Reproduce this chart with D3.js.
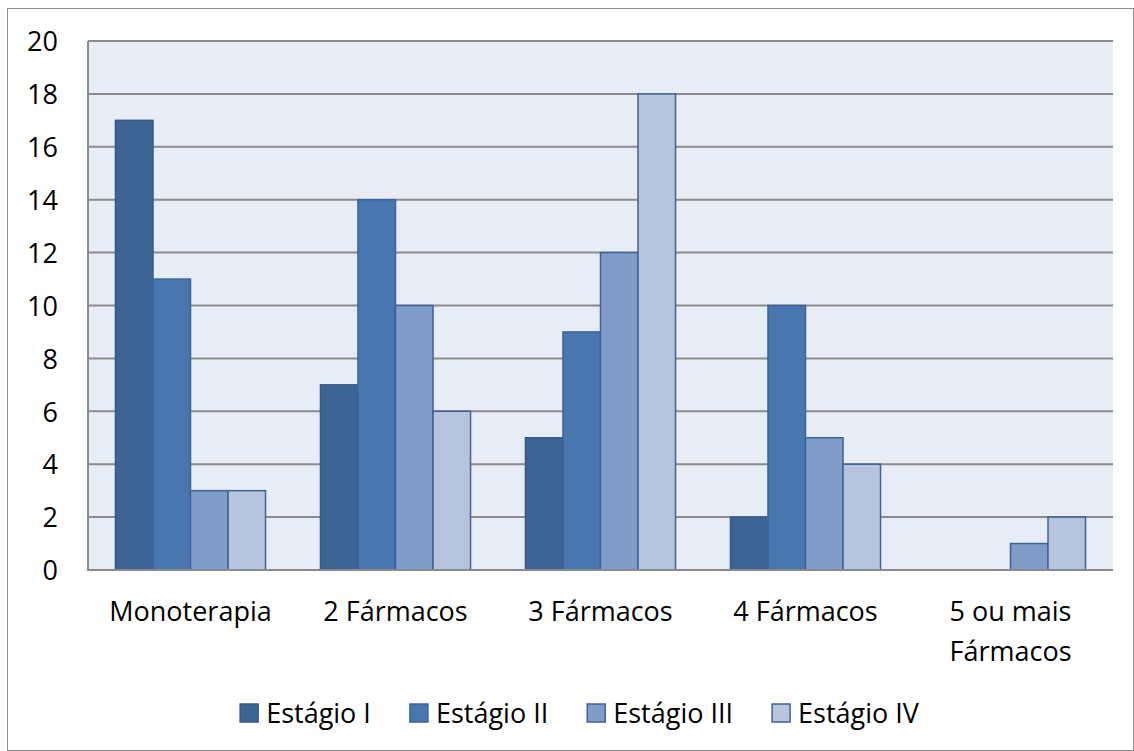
<!DOCTYPE html>
<html>
<head>
<meta charset="utf-8">
<script src="https://cdn.jsdelivr.net/npm/d3@7"></script>
<style>
  html, body { margin: 0; padding: 0; background: #fff; }
  svg { display: block; font-family: "Open Sans", "Noto Sans", sans-serif; }
</style>
</head>
<body>
<svg id="chart" width="1134" height="751"></svg>
<script>
// Number of patients per drug-regimen group, split by hypertension stage
const categories = [["Monoterapia"], ["2 Fármacos"], ["3 Fármacos"], ["4 Fármacos"], ["5 ou mais", "Fármacos"]];
const seriesNames = ["Estágio I", "Estágio II", "Estágio III", "Estágio IV"];
const estagioI   = [17, 7, 5, 2, 0];
const estagioII  = [11, 14, 9, 10, 0];
const estagioIII = [3, 10, 12, 5, 1];
const estagioIV  = [3, 6, 18, 4, 2];
const yTicks = [0, 2, 4, 6, 8, 10, 12, 14, 16, 18, 20];

const series = [estagioI, estagioII, estagioIII, estagioIV];
const fills = ["#3c6495", "#4877b0", "#809dc9", "#b6c4de"];
const strokes = ["#37598a", "#3d6497", "#3e6296", "#3e6296"];

const svg = d3.select("#chart");
const W = 1134, H = 751;
const FONT = 27;

// outer chart frame
svg.append("rect").attr("x", 7.5).attr("y", 8.5).attr("width", W - 8).attr("height", H - 9)
  .attr("fill", "#fff").attr("stroke", "#8c8c8c").attr("stroke-width", 1);

const plot = { left: 88, top: 41, right: 1113, bottom: 570 };

const x0 = d3.scaleBand().domain(categories.map((d, i) => i))
  .range([plot.left, plot.right]).paddingInner(0.268).paddingOuter(0.134);
const x1 = d3.scaleBand().domain(seriesNames).range([0, x0.bandwidth()]);
const y = d3.scaleLinear().domain([0, 20]).range([plot.bottom, plot.top]);

// plot background
svg.append("rect").attr("x", plot.left).attr("y", plot.top)
  .attr("width", plot.right - plot.left).attr("height", plot.bottom - plot.top)
  .attr("fill", "#e8ecf4");

// horizontal gridlines
svg.append("g").selectAll("line").data(yTicks.filter(t => t > 0)).join("line")
  .attr("x1", plot.left).attr("x2", plot.right)
  .attr("y1", d => y(d)).attr("y2", d => y(d))
  .attr("stroke", "#8a8a8a").attr("stroke-width", 2);

// bars
const groups = svg.append("g").selectAll("g").data(categories).join("g")
  .attr("transform", (d, i) => `translate(${x0(i)},0)`);
groups.each(function (d, ci) {
  d3.select(this).selectAll("rect").data(seriesNames).join("rect")
    .filter((s, si) => series[si][ci] > 0)
    .attr("x", s => x1(s))
    .attr("y", s => y(series[seriesNames.indexOf(s)][ci]))
    .attr("width", x1.bandwidth())
    .attr("height", s => y(0) - y(series[seriesNames.indexOf(s)][ci]))
    .attr("fill", s => fills[seriesNames.indexOf(s)])
    .attr("stroke", s => strokes[seriesNames.indexOf(s)])
    .attr("stroke-width", 1.5);
});

// y axis line and x axis line
svg.append("line").attr("x1", plot.left).attr("x2", plot.left)
  .attr("y1", plot.top).attr("y2", plot.bottom).attr("stroke", "#8a8a8a").attr("stroke-width", 2);
svg.append("line").attr("x1", plot.left - 1).attr("x2", plot.right)
  .attr("y1", plot.bottom).attr("y2", plot.bottom).attr("stroke", "#8a8a8a").attr("stroke-width", 2);

// y tick labels
const yAxis = d3.axisLeft(y).tickValues(yTicks).tickSize(0).tickPadding(30);
const gy = svg.append("g").attr("transform", `translate(${plot.left},0)`).call(yAxis);
gy.select(".domain").remove();
gy.selectAll("text").attr("font-size", FONT).attr("fill", "#000")
  .attr("font-family", "'Open Sans', 'Noto Sans', sans-serif").attr("dy", "0.36em");

// x category labels
const xl = svg.append("g").selectAll("text").data(categories).join("text")
  .attr("x", (d, i) => x0(i) + x0.bandwidth() / 2)
  .attr("y", 621)
  .attr("text-anchor", "middle").attr("font-size", FONT).attr("fill", "#000");
xl.each(function (d) {
  d3.select(this).selectAll("tspan").data(d).join("tspan")
    .attr("x", d3.select(this).attr("x"))
    .attr("dy", (t, k) => k === 0 ? 0 : 40)
    .text(t => t);
});

// legend
const legend = svg.append("g");
const items = legend.selectAll("g").data(seriesNames).join("g");
items.append("rect").attr("width", 18).attr("height", 18).attr("y", -9)
  .attr("fill", (d, i) => fills[i]).attr("stroke", (d, i) => strokes[i]).attr("stroke-width", 1.5);
items.append("text").attr("x", 26).attr("dy", "0.36em").attr("font-size", FONT)
  .attr("fill", "#000").text(d => d);
let cx = 0;
const gap = 39;
items.each(function () {
  const w = this.getBBox().width;
  d3.select(this).attr("transform", `translate(${cx},0)`);
  cx += w + gap;
});
const total = cx - gap;
legend.attr("transform", `translate(${580 - total / 2},713)`);
</script>
</body>
</html>
